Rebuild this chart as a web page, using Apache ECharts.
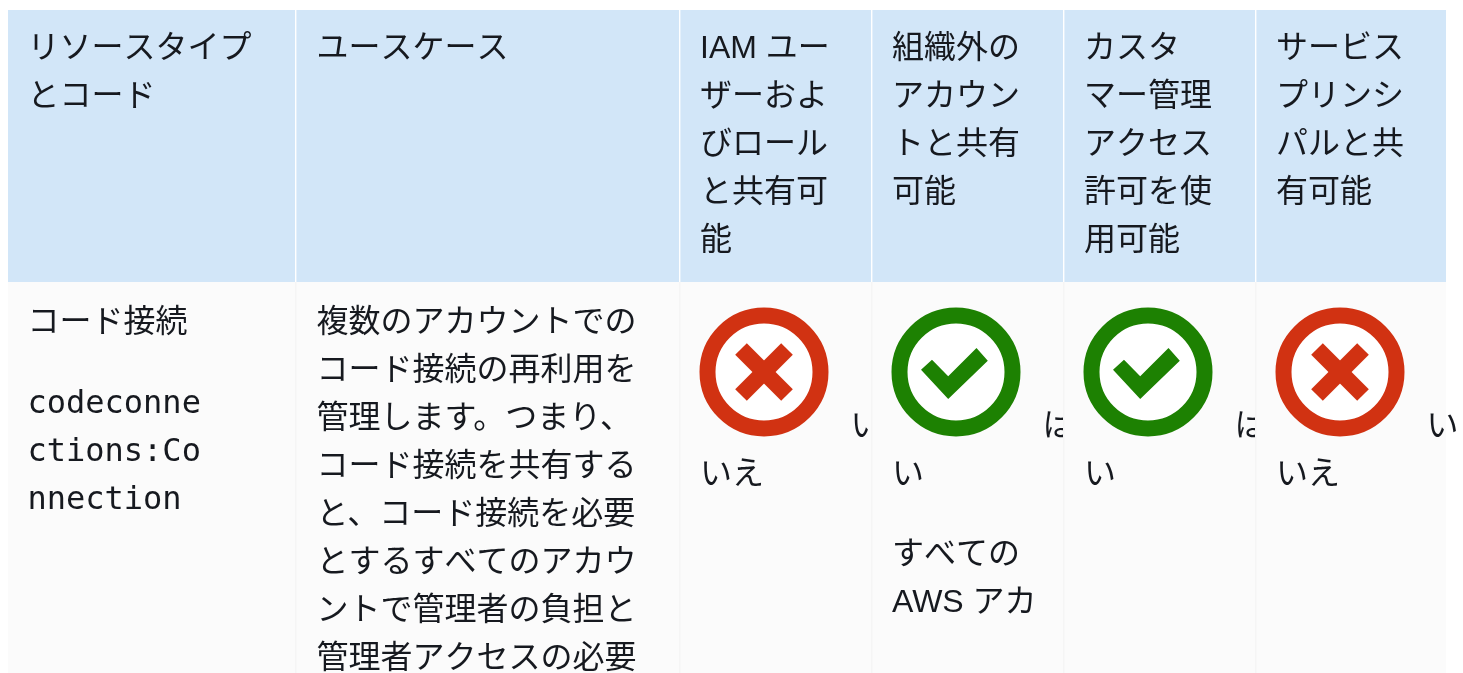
<!DOCTYPE html>
<html>
<head>
<meta charset="utf-8">
<style>html,body{margin:0;padding:0;background:#fff}#c{width:1463px;height:673px}</style>
<script src="https://cdn.jsdelivr.net/npm/echarts@6/dist/echarts.min.js"></script>
</head>
<body>
<div id="c"></div>
<script>
// Table content
const headers = [
  "リソースタイプ\nとコード",
  "ユースケース",
  "IAM ユー\nザーおよ\nびロール\nと共有可\n能",
  "組織外の\nアカウン\nトと共有\n可能",
  "カスタ\nマー管理\nアクセス\n許可を使\n用可能",
  "サービス\nプリンシ\nパルと共\n有可能"
];
const resourceName = "コード接続";
const resourceCode = "codeconne\nctions:Co\nnnection";
const useCase = "複数のアカウントでの\nコード接続の再利用を\n管理します。つまり、\nコード接続を共有する\nと、コード接続を必要\nとするすべてのアカウ\nントで管理者の負担と\n管理者アクセスの必要";
const support = [false, true, true, false];
const answerHead = ["い", "は", "は", "い"];
const answerTail = ["いえ", "い", "い", "いえ"];
const answerNote = ["", "すべての\nAWS アカ", "", ""];

// Layout
const colEdges = [8, 295, 679, 871, 1063, 1255, 1446];
const textInset = [19.5, 21.5, 21, 21, 21, 21];
const headTop = 10, headBottom = 282, pageBottom = 673;
const FS = 32, LH = 48;
const SANS = '"Liberation Sans","Noto Sans CJK JP",sans-serif';
const MONO = '"DejaVu Sans Mono",monospace';
const INK = '#16191f', RED = '#d13212', GREEN = '#1d8102';
const HEAD_BG = '#d2e6f8', BODY_BG = '#fbfbfb', BODY_LINE = '#f5f5f5';
const CHECK = [[-35,-2.3],[-24,-12.3],[-7.8,4.3],[20.5,-24],[31.8,-11.3],[-7.8,27]];

function label(x, y, text, family) {
  return {type:'text', x, y, style:{text, fill:INK, fontSize:FS, fontFamily:family||SANS,
    lineHeight:LH, align:'left', verticalAlign:'top'}};
}
function icon(cx, cy, ok) {
  const col = ok ? GREEN : RED;
  const parts = [{type:'circle', shape:{cx, cy, r:56.5},
    style:{fill:'#fff', stroke:col, lineWidth:16}}];
  if (ok) {
    parts.push({type:'polygon', shape:{points:CHECK.map(p=>[cx+p[0], cy+p[1]])}, style:{fill:col}});
  } else {
    parts.push({type:'line', shape:{x1:cx-23,y1:cy-23,x2:cx+23,y2:cy+23}, style:{stroke:col,lineWidth:16.5}});
    parts.push({type:'line', shape:{x1:cx-23,y1:cy+23,x2:cx+23,y2:cy-23}, style:{stroke:col,lineWidth:16.5}});
  }
  return parts;
}

function renderCell(params, api) {
  const col = api.value(0), row = api.value(1);
  const x0 = colEdges[col], x1 = colEdges[col+1];
  const children = [];
  const top = row === 0 ? headTop : headBottom;
  const bottom = row === 0 ? headBottom : pageBottom;
  children.push({type:'rect', shape:{x:x0, y:top, width:x1-x0, height:bottom-top},
    style:{fill: row === 0 ? HEAD_BG : BODY_BG}});
  if (col > 0) children.push({type:'rect', shape:{x:x0, y:top, width:1.4, height:bottom-top},
    style:{fill: row === 0 ? '#fff' : BODY_LINE}});
  const tx = x0 + textInset[col];
  if (row === 0) {
    children.push(label(tx, 25, headers[col]));
  } else if (col === 0) {
    children.push(label(tx, 299, resourceName));
    children.push(label(tx, 381, resourceCode, MONO));
  } else if (col === 1) {
    children.push(label(tx, 299, useCase));
  } else {
    const k = col - 2;
    children.push(...icon(x0 + 85, 372, support[k]));
    children.push(label(x0 + 171.5, 403, answerHead[k]));
    children.push(label(tx, 451, answerTail[k]));
    if (answerNote[k]) children.push(label(tx, 531, answerNote[k]));
  }
  return {type:'group', children};
}

const cells = [];
for (let r = 0; r < 2; r++) for (let c = 0; c < headers.length; c++) cells.push([c, r]);

const chart = echarts.init(document.getElementById('c'), null, {renderer:'canvas'});
chart.setOption({
  animation:false,
  backgroundColor:'#fff',
  series:[{type:'custom', coordinateSystem:'none', silent:true, clip:false,
    renderItem:renderCell, data:cells}]
});
</script>
</body>
</html>
